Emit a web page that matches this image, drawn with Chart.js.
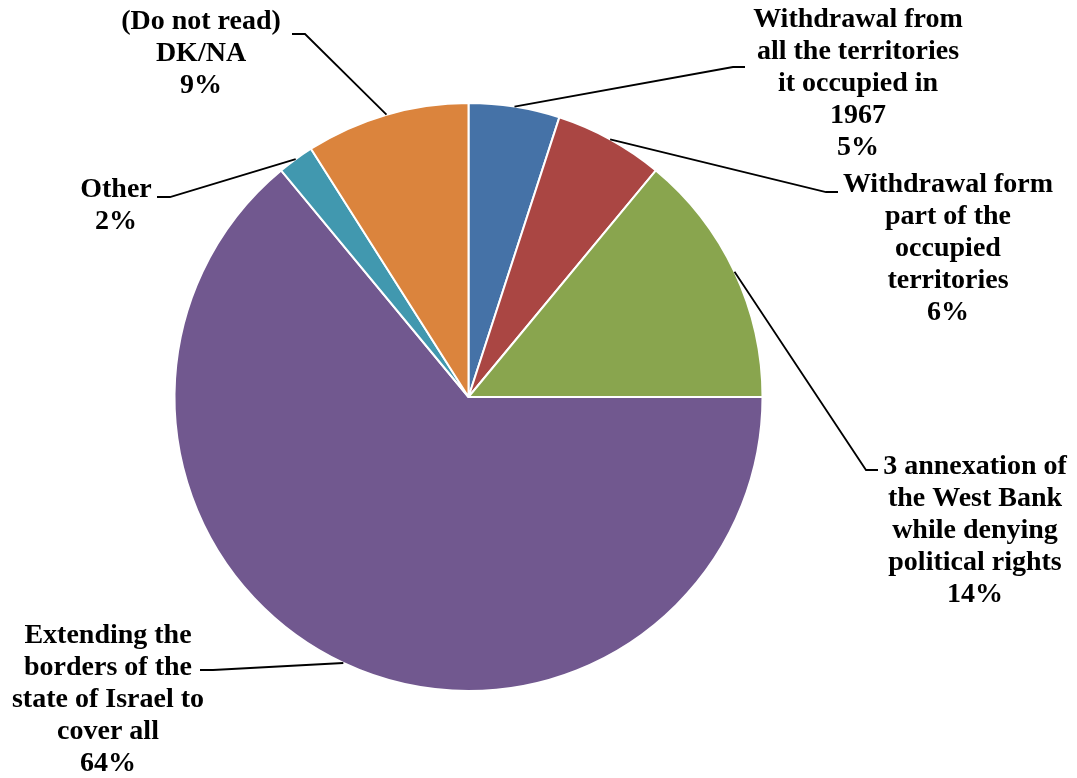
<!DOCTYPE html>
<html>
<head>
<meta charset="utf-8">
<script src="https://cdn.jsdelivr.net/npm/chart.js@4"></script>
<style>
  html, body { margin: 0; padding: 0; background: #fff; }
  #wrap { width: 1077px; height: 778px; }
</style>
</head>
<body>
<div id="wrap"><canvas id="pie"></canvas></div>
<script>
// Answer categories (each one broken into the lines shown next to the pie)
const categories = [
  ['Withdrawal from', 'all the territories', 'it occupied in', '1967'],
  ['Withdrawal form', 'part of the', 'occupied', 'territories'],
  ['3 annexation of', 'the West Bank', 'while denying', 'political rights'],
  ['Extending the', 'borders of the', 'state of Israel to', 'cover all'],
  ['Other'],
  ['(Do not read)', 'DK/NA']
];
const shares = [5, 6, 14, 64, 2, 9];
const colors = ['#4572A7', '#AA4643', '#89A54E', '#71588F', '#4198AF', '#DB843D'];

// where each label block sits and where its leader line ends
const labelPlace = [
  { x: 858, y: 20, ex: 745, ey: 67 },
  { x: 948, y: 185, ex: 838, ey: 192 },
  { x: 975, y: 467, ex: 878, ey: 470 },
  { x: 108, y: 636, ex: 200, ey: 670 },
  { x: 116, y: 190, ex: 157, ey: 197 },
  { x: 201, y: 22, ex: 292, ey: 34 }
];

const FONT = 'bold 28px "Liberation Serif", "Times New Roman", serif';
const LINE_H = 32;

const calloutPlugin = {
  id: 'callouts',
  afterDatasetsDraw(chart) {
    const ctx = chart.ctx;
    const arcs = chart.getDatasetMeta(0).data;
    ctx.save();
    arcs.forEach((arc, i) => {
      const p = arc.getProps(['x', 'y', 'startAngle', 'endAngle', 'outerRadius'], true);
      const mid = (p.startAngle + p.endAngle) / 2;
      const sx = p.x + Math.cos(mid) * p.outerRadius;
      const sy = p.y + Math.sin(mid) * p.outerRadius;
      const pl = labelPlace[i];
      const kx = pl.ex < sx ? pl.ex + 13 : pl.ex - 12;
      ctx.strokeStyle = '#000';
      ctx.lineWidth = 1.8;
      ctx.beginPath();
      ctx.moveTo(sx, sy);
      ctx.lineTo(kx, pl.ey);
      ctx.lineTo(pl.ex, pl.ey);
      ctx.stroke();

      const lines = categories[i].concat([shares[i] + '%']);
      ctx.font = FONT;
      ctx.fillStyle = '#000';
      ctx.textAlign = 'center';
      ctx.textBaseline = 'middle';
      lines.forEach((t, k) => ctx.fillText(t, pl.x, pl.y + k * LINE_H));
    });
    ctx.restore();
  }
};

new Chart(document.getElementById('pie'), {
  type: 'pie',
  data: {
    labels: categories.map(c => c.join(' ')),
    datasets: [{
      data: shares,
      backgroundColor: colors,
      borderColor: '#fff',
      borderWidth: 2
    }]
  },
  options: {
    responsive: true,
    maintainAspectRatio: false,
    animation: false,
    layout: { padding: { left: 173, right: 313, top: 102, bottom: 86 } },
    plugins: {
      legend: { display: false },
      tooltip: { enabled: false }
    }
  },
  plugins: [calloutPlugin]
});
</script>
</body>
</html>
